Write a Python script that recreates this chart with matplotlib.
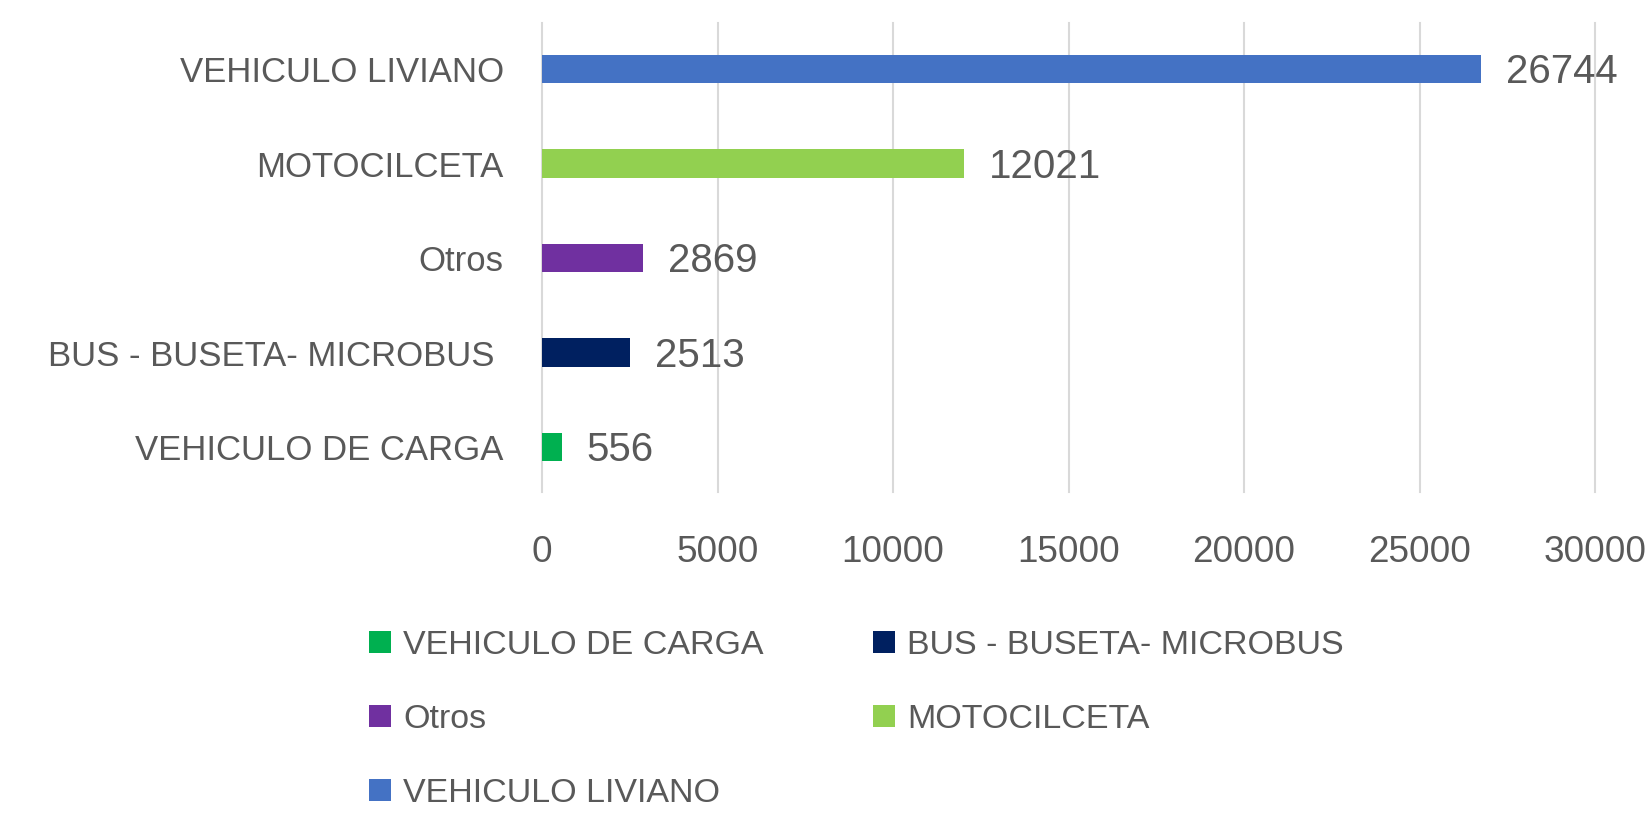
import matplotlib
matplotlib.use("Agg")
import matplotlib.pyplot as plt
from matplotlib import font_manager

# ---------------- data ----------------
categories = ["VEHICULO DE CARGA", "BUS - BUSETA- MICROBUS ", "Otros", "MOTOCILCETA", "VEHICULO LIVIANO"]
values = [556, 2513, 2869, 12021, 26744]
colors = ["#00B050", "#002060", "#7030A0", "#92D050", "#4472C4"]
xticks = [0, 5000, 10000, 15000, 20000, 25000, 30000]
xtick_labels = ["0", "5000", "10000", "15000", "20000", "25000", "30000"]

# ---------------- fonts ----------------
names = {f.name for f in font_manager.fontManager.ttflist}
reg_font = "Liberation Sans" if "Liberation Sans" in names else "DejaVu Sans"
if "Liberation Sans Narrow" in names:
    cat_font, cat_size = "Liberation Sans Narrow", 29
else:
    cat_font, cat_size = reg_font, 25
TXT = "#595959"

W, H = 1650, 814
fig = plt.figure(figsize=(W / 100, H / 100), dpi=100)
fig.patch.set_facecolor("white")

ax_left, ax_right, ax_top, ax_bot = 542, 1595, 23, 492
ax = fig.add_axes([ax_left / W, (H - ax_bot) / H, (ax_right - ax_left) / W, (ax_bot - ax_top) / H])

ypos = list(range(len(categories)))
handles = []
for y, v, c, lab in zip(ypos, values, colors, categories):
    b = ax.barh(y, v, height=0.3, color=c, label=lab.strip(), zorder=3)
    handles.append(b)
    ax.annotate(str(v), xy=(v, y), xytext=(18, -2.5), textcoords="offset points",
                ha="left", va="center", fontsize=29, family=reg_font, color=TXT)

ax.set_xlim(0, 30000)
ax.set_ylim(-0.476, 4.487)
ax.set_xticks(xticks, labels=xtick_labels)
ax.set_yticks(ypos, labels=categories)
for lbl in ax.get_xticklabels():
    lbl.set_fontsize(26.6)
    lbl.set_family(reg_font)
    lbl.set_color(TXT)
for lbl in ax.get_yticklabels():
    lbl.set_fontsize(cat_size)
    lbl.set_family(cat_font)
    lbl.set_color(TXT)
ax.tick_params(axis="x", length=0, pad=31)
ax.tick_params(axis="y", length=0, pad=27.5)
ax.grid(axis="x", color="#D9D9D9", lw=1.5, zorder=0)
ax.set_axisbelow(True)
for line in ax.get_xgridlines():
    line.set_clip_on(False)
for s in ax.spines.values():
    s.set_visible(False)

# ---------------- legend (two columns, row-major order) ----------------
fs = 24.5
fpx = fs / 0.72
common = dict(loc="upper left", frameon=False, borderpad=0, borderaxespad=0,
              handlelength=22 / fpx, handleheight=21 / fpx, handletextpad=12 / fpx,
              labelspacing=1.27, prop={"family": reg_font, "size": fs}, labelcolor=TXT)
top = 630
col1 = [handles[0], handles[2], handles[4]]
col2 = [handles[1], handles[3]]
leg1 = fig.legend(handles=col1, labels=[h.get_label() for h in col1],
                  bbox_to_anchor=(369 / W, (H - top) / H), bbox_transform=fig.transFigure, **common)
leg2 = fig.legend(handles=col2, labels=[h.get_label() for h in col2],
                  bbox_to_anchor=(873 / W, (H - top) / H), bbox_transform=fig.transFigure, **common)

fig.savefig("out.png", dpi=100, facecolor="white")
